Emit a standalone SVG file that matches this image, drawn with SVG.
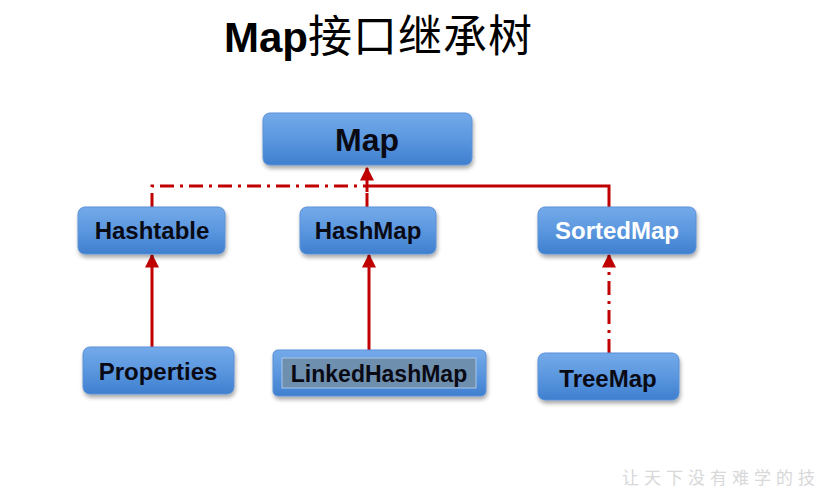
<svg xmlns="http://www.w3.org/2000/svg" width="825" height="492" viewBox="0 0 825 492">
<defs>
<linearGradient id="g" x1="0" y1="0" x2="0" y2="1">
<stop offset="0" stop-color="#74aaea"/>
<stop offset="0.5" stop-color="#5b97df"/>
<stop offset="1" stop-color="#3f7fcf"/>
</linearGradient>
<filter id="sh" x="-10%" y="-20%" width="120%" height="150%">
<feGaussianBlur in="SourceAlpha" stdDeviation="2"/>
<feOffset dx="1" dy="3" result="b"/>
<feComponentTransfer><feFuncA type="linear" slope="0.35"/></feComponentTransfer>
<feMerge><feMergeNode/><feMergeNode in="SourceGraphic"/></feMerge>
</filter>
<marker id="ah" viewBox="0 0 10 10" refX="9" refY="5" markerWidth="14" markerHeight="14" markerUnits="userSpaceOnUse" orient="auto">
<path d="M0,0 L10,5 L0,10 z" fill="#c00000"/>
</marker>
</defs>
<style>
.box{fill:url(#g);stroke:#5a90d6;stroke-width:1;filter:url(#sh)}
.t{font-family:"Liberation Sans",Arial,sans-serif;font-weight:bold;text-anchor:middle;fill:#0a0a14}
.w{fill:#ffffff}
.ln{fill:none;stroke:#c00000;stroke-width:3}
.dd{stroke-dasharray:14,6,3,6}
</style>
<rect width="825" height="492" fill="#ffffff"/>
<text x="224" y="52" font-family="'Liberation Sans',Arial,sans-serif" font-size="42" font-weight="bold" fill="#000">Map<tspan font-family="'Noto Sans CJK SC',sans-serif" font-weight="normal" font-size="44" letter-spacing="1">接口继承树</tspan></text>
<g id="connectors">
<path class="ln dd" d="M152,207 V186 H367"/>
<path class="ln dd" d="M367,207 V192"/>
<path class="ln" d="M367,192 V168" marker-end="url(#ah)"/>
<path class="ln" d="M367,186 H609 V207"/>
<path class="ln" d="M152,347 V255" marker-end="url(#ah)"/>
<path class="ln" d="M369,350 V255" marker-end="url(#ah)"/>
<path class="ln dd" d="M609,353 V255" marker-end="url(#ah)"/>
</g>
<g id="Map"><rect class="box" x="263" y="113" width="209" height="52" rx="7"/><text class="t" x="367" y="151" font-size="32">Map</text></g>
<g id="Hashtable"><rect class="box" x="78" y="207" width="147" height="47" rx="7"/><text class="t" x="152" y="239" font-size="24">Hashtable</text></g>
<g id="HashMap"><rect class="box" x="300" y="207" width="136" height="47" rx="7"/><text class="t" x="368" y="239" font-size="24">HashMap</text></g>
<g id="SortedMap"><rect class="box" x="538" y="207" width="158" height="47" rx="7"/><text class="t w" x="617" y="239" font-size="24">SortedMap</text></g>
<g id="Properties"><rect class="box" x="83" y="347" width="151" height="47" rx="7"/><text class="t" x="158" y="380" font-size="24">Properties</text></g>
<g id="LinkedHashMap"><rect class="box" x="273" y="350" width="213" height="46" rx="5"/><rect x="282" y="358" width="194" height="30" fill="#6f8fae" stroke="#a9c6e8" stroke-width="1"/><text class="t" x="379" y="382" font-size="23" fill="#3a3a48">LinkedHashMap</text></g>
<g id="TreeMap"><rect class="box" x="538" y="353" width="141" height="47" rx="7"/><text class="t" x="608" y="387" font-size="24">TreeMap</text></g>
<text x="622" y="484" font-family="'Noto Sans CJK SC',sans-serif" font-size="17" fill="#d8d8d8" letter-spacing="5">让天下没有难学的技</text>
</svg>
